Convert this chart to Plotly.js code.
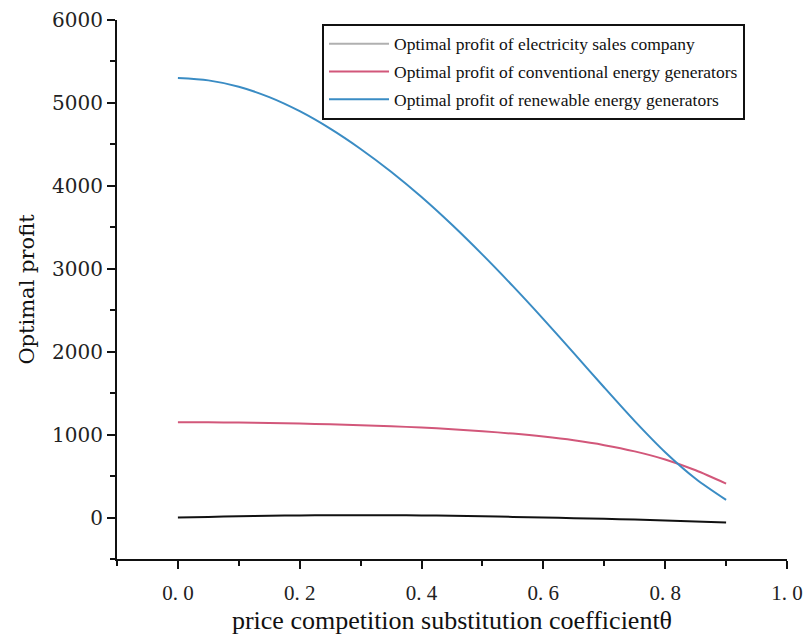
<!DOCTYPE html>
<html>
<head>
<meta charset="utf-8">
<script src="https://cdn.plot.ly/plotly-3.0.1.min.js"></script>
<style>html,body{margin:0;padding:0;background:#fff;}#chart{width:803px;height:635px;}</style>
</head>
<body>
<div id="chart"></div>
<script>
const theta = [0, 0.05, 0.1, 0.15, 0.2, 0.25, 0.3, 0.35, 0.4, 0.45, 0.5, 0.55, 0.6, 0.65, 0.7, 0.75, 0.8, 0.85, 0.9];
const salesProfit = [0, 8, 15, 21, 25, 27, 28, 27, 25, 21, 15, 8, 0, -8, -16, -25, -35, -47, -60];
const conventionalProfit = [1150, 1148, 1145, 1140, 1133, 1125, 1114, 1101, 1085, 1065, 1041, 1012, 976, 931, 873, 798, 700, 570, 410];
const renewableProfit = [5300, 5272, 5195, 5070, 4900, 4690, 4445, 4170, 3865, 3530, 3170, 2790, 2393, 1983, 1568, 1163, 788, 468, 213];
const xTickVals = [0, 0.2, 0.4, 0.6, 0.8, 1.0];
const xTickText = ['0. 0', '0. 2', '0. 4', '0. 6', '0. 8', '1. 0'];
const yTickVals = [0, 1000, 2000, 3000, 4000, 5000, 6000];
const names = ['Optimal profit of electricity sales company', 'Optimal profit of conventional energy generators', 'Optimal profit of renewable energy generators'];

const traces = [
  {x: theta, y: salesProfit, mode: 'lines', line: {color: '#111111', width: 2, shape: 'spline', smoothing: 0.8}, showlegend: false, hoverinfo: 'skip'},
  {x: [null], y: [null], mode: 'lines', name: names[0], line: {color: '#b0b0b0', width: 2}, legendgroup: 'a'},
  {x: theta, y: conventionalProfit, mode: 'lines', name: names[1], line: {color: '#d2577a', width: 2, shape: 'spline', smoothing: 0.8}, legendgroup: 'b'},
  {x: theta, y: renewableProfit, mode: 'lines', name: names[2], line: {color: '#3a8cc4', width: 2, shape: 'spline', smoothing: 0.8}, legendgroup: 'c'}
];

const layout = {
  width: 803, height: 635,
  margin: {l: 117, r: 16, t: 20, b: 76},
  paper_bgcolor: '#fff', plot_bgcolor: '#fff',
  font: {family: 'Liberation Serif, serif', color: '#111'},
  showlegend: true,
  legend: {
    x: 0.306, y: 0.993, xanchor: 'left', yanchor: 'top',
    bordercolor: '#111', borderwidth: 2, bgcolor: '#fff',
    font: {family: 'Liberation Serif, serif', size: 17.5, color: '#111'},
    traceorder: 'grouped', tracegroupgap: 2, itemwidth: 60
  },
  xaxis: {
    range: [-0.1, 1.0], showgrid: false, zeroline: false,
    showline: true, linecolor: '#111', linewidth: 2,
    ticks: 'outside', ticklen: 8, tickwidth: 2, tickcolor: '#111',
    tickvals: xTickVals, ticktext: xTickText, ticklabelstandoff: 6,
    tickfont: {family: 'Liberation Serif, serif', size: 21, color: '#222'},
    minor: {dtick: 0.1, tick0: -0.1, ticks: 'outside', ticklen: 5, tickwidth: 2, tickcolor: '#111', showgrid: false},
    title: {text: 'price competition substitution coefficientθ', font: {family: 'Liberation Serif, serif', size: 26, color: '#111'}, standoff: 8}
  },
  yaxis: {
    range: [-500, 6000], showgrid: false, zeroline: false,
    showline: true, linecolor: '#111', linewidth: 2,
    ticks: 'outside', ticklen: 8, tickwidth: 2, tickcolor: '#111',
    tickvals: yTickVals,
    tickfont: {family: 'DejaVu Serif, serif', size: 20, color: '#222'},
    minor: {dtick: 500, ticks: 'outside', ticklen: 5, tickwidth: 2, tickcolor: '#111', showgrid: false},
    title: {text: 'Optimal profit', font: {family: 'DejaVu Serif, serif', size: 21, color: '#111'}, standoff: 12}
  }
};

Plotly.newPlot('chart', traces, layout, {displayModeBar: false, staticPlot: true});
</script>
</body>
</html>
